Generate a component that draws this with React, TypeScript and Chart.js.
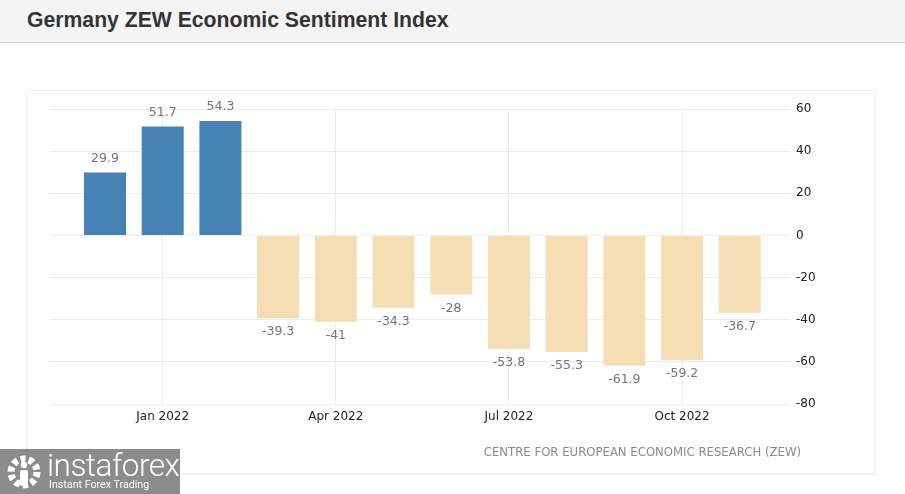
import React, { useEffect, useRef } from "react";
import { Chart, registerables } from "chart.js";

Chart.register(...registerables);

const title = "Germany ZEW Economic Sentiment Index";
const sourceText = "CENTRE FOR EUROPEAN ECONOMIC RESEARCH (ZEW)";
const months = [
  "Dec 2021", "Jan 2022", "Feb 2022", "Mar 2022", "Apr 2022", "May 2022",
  "Jun 2022", "Jul 2022", "Aug 2022", "Sep 2022", "Oct 2022", "Nov 2022",
];
const values = [29.9, 51.7, 54.3, -39.3, -41, -34.3, -28, -53.8, -55.3, -61.9, -59.2, -36.7];
const tickMonthIndexes = [1, 4, 7, 10];
const yTicks = [60, 40, 20, 0, -20, -40, -60, -80];

const POS_COLOR = "#4682b4";
const NEG_COLOR = "#f5deb3";

const labelPlugin = {
  id: "valueLabels",
  afterDatasetsDraw(chart: any) {
    const ctx = chart.ctx;
    const meta = chart.getDatasetMeta(0);
    ctx.save();
    ctx.font = "12.5px 'DejaVu Sans'";
    ctx.fillStyle = "#757575";
    ctx.textAlign = "center";
    ctx.textBaseline = "middle";
    meta.data.forEach((el: any, i: number) => {
      const v = values[i];
      const y = v >= 0 ? el.y - 14 : el.y + 14;
      ctx.fillText(String(v), el.x, y);
    });
    ctx.restore();
  },
};

function App() {
  const ref = useRef<HTMLCanvasElement | null>(null);

  useEffect(() => {
    if (!ref.current) return;
    const chart = new Chart(ref.current, {
      type: "bar",
      data: {
        datasets: [
          {
            data: values.map((v, i) => ({ x: i, y: v })),
            backgroundColor: values.map((v) => (v >= 0 ? POS_COLOR : NEG_COLOR)),
            borderWidth: 0,
            categoryPercentage: 1,
            barPercentage: 0.728,
          },
        ],
      },
      options: {
        responsive: false,
        animation: false,
        events: [],
        layout: { padding: { left: 50, top: 109, right: 0, bottom: 0 } },
        plugins: {
          legend: { display: false },
          tooltip: { enabled: false },
          title: { display: false },
        },
        scales: {
          x: {
            type: "linear",
            offset: false,
            min: -0.953,
            max: 11.87,
            grid: { offset: false, color: "#ececec", drawTicks: false, lineWidth: 1 },
            border: { display: false },
            afterBuildTicks: (scale: any) => {
              scale.ticks = tickMonthIndexes.map((v) => ({ value: v }));
            },
            afterFit: (scale: any) => {
              scale.height = 90;
            },
            ticks: {
              autoSkip: false,
              maxRotation: 0,
              padding: 6,
              color: "#222",
              font: { family: "'DejaVu Sans'", size: 12 },
              callback: (value: any) => months[Math.round(Number(value))] ?? "",
            },
          },
          y: {
            position: "right",
            min: -80,
            max: 60,
            grid: { color: "#ececec", drawTicks: false, lineWidth: 1 },
            border: { display: false },
            afterBuildTicks: (scale: any) => {
              scale.ticks = yTicks.map((v) => ({ value: v }));
            },
            afterFit: (scale: any) => {
              scale.width = 115;
            },
            ticks: {
              padding: 6,
              color: "#222",
              font: { family: "'DejaVu Sans'", size: 12 },
            },
          },
        },
      },
      plugins: [labelPlugin],
    } as any);
    return () => chart.destroy();
  }, []);

  return (
    <div
      style={{
        position: "absolute",
        left: 0,
        top: 0,
        width: 905,
        height: 494,
        overflow: "hidden",
        background: "#fff",
      }}
    >
      <div
        style={{
          position: "absolute",
          left: 0,
          top: 0,
          width: 905,
          height: 42,
          background: "#f4f4f4",
          borderBottom: "1px solid #cfcfcf",
        }}
      />
      <div
        style={{
          position: "absolute",
          left: 27,
          top: 6,
          fontFamily: "'Liberation Sans', Arial, sans-serif",
          fontWeight: "bold",
          fontSize: 21.2,
          color: "#333",
          whiteSpace: "nowrap",
          lineHeight: "28px",
        }}
      >
        {title}
      </div>
      <div
        style={{
          position: "absolute",
          left: 26,
          top: 90,
          width: 848,
          height: 382,
          border: "1px solid #efefef",
          boxShadow: "0 2px 2px rgba(0,0,0,0.03)",
        }}
      />
      <canvas
        ref={ref}
        width={905}
        height={494}
        style={{ position: "absolute", left: 0, top: 0 }}
      />
      <div
        style={{
          position: "absolute",
          right: 104,
          top: 444,
          fontFamily: "'DejaVu Sans', sans-serif",
          fontSize: 11.7,
          color: "#8a8a8a",
          whiteSpace: "nowrap",
          lineHeight: "16px",
        }}
      >
        {sourceText}
      </div>
      <div
        style={{
          position: "absolute",
          left: 0,
          top: 449,
          width: 180,
          height: 45,
          background: "#8c8c8c",
        }}
      >
        <svg
          width="40"
          height="40"
          viewBox="0 0 40 40"
          style={{ position: "absolute", left: 4, top: 3 }}
        >
          <circle cx="20" cy="20" r="13" fill="none" stroke="#fff" strokeWidth="7" strokeDasharray="5 3.2" />
          <circle cx="20" cy="20" r="9" fill="#8c8c8c" />
          <circle cx="20" cy="13" r="3.2" fill="#fff" />
          <rect x="16" y="18" width="8" height="16" rx="2" fill="#fff" />
        </svg>
        <div
          style={{
            position: "absolute",
            left: 47,
            top: 0,
            fontFamily: "Roboto, 'Open Sans', sans-serif",
            fontWeight: 300,
            fontSize: 31.5,
            color: "#fff",
            lineHeight: "34px",
            letterSpacing: "-0.5px",
            whiteSpace: "nowrap",
          }}
        >
          instaforex
        </div>
        <div
          style={{
            position: "absolute",
            left: 49,
            top: 29,
            fontFamily: "Roboto, 'Open Sans', sans-serif",
            fontSize: 10.7,
            color: "#fff",
            lineHeight: "13px",
            whiteSpace: "nowrap",
          }}
        >
          Instant Forex Trading
        </div>
      </div>
    </div>
  );
}

export default App;
